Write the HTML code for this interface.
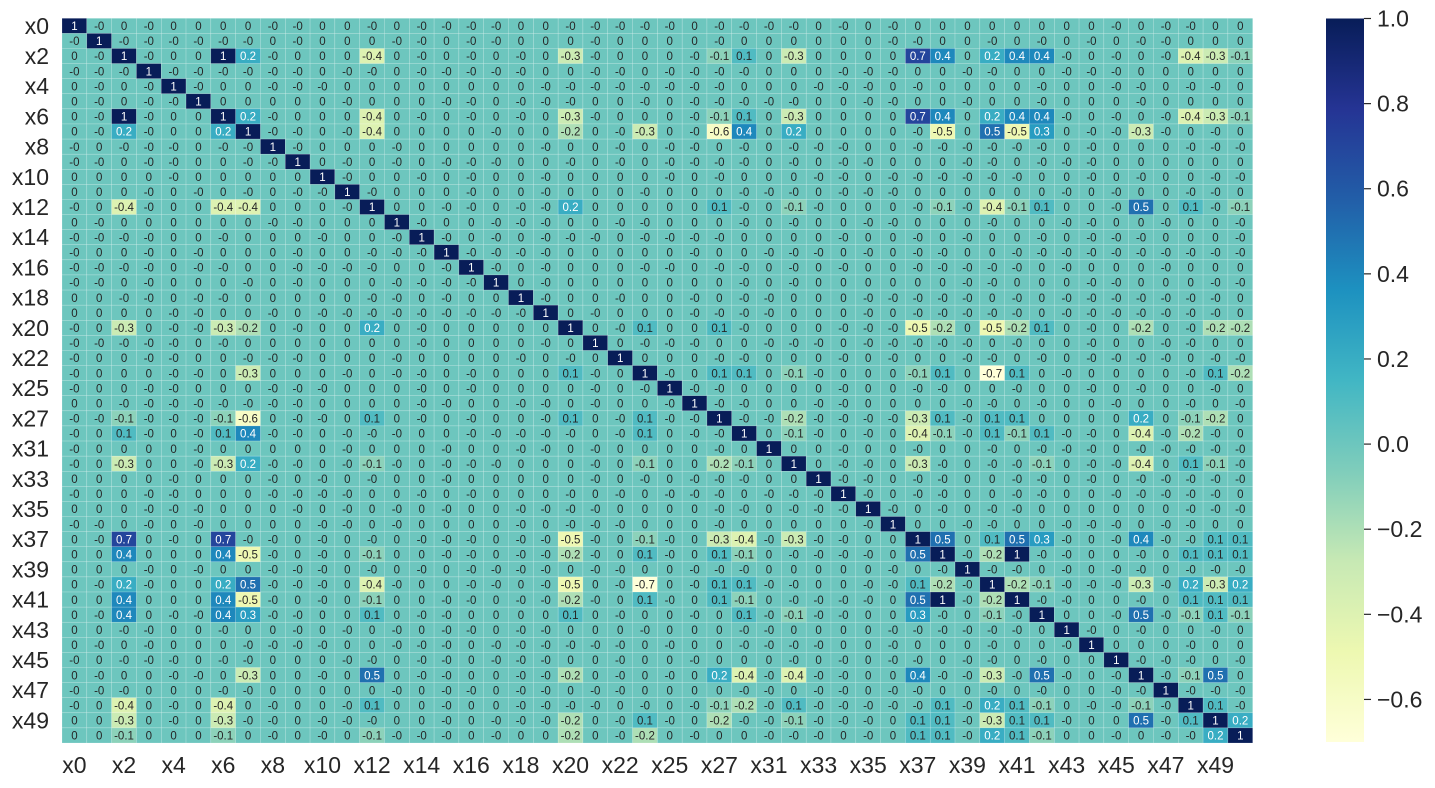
<!DOCTYPE html>
<html><head><meta charset="utf-8">
<style>
html,body{margin:0;padding:0;background:#fff;}
svg{display:block;font-family:"Liberation Sans",Arial,sans-serif;}
</style></head>
<body>
<svg id="chart" width="1435" height="788" viewBox="0 0 1435 788">
<defs>
<linearGradient id="cbgrad" x1="0" y1="0" x2="0" y2="1">
<stop offset="0" stop-color="#081d58"/><stop offset="0.125" stop-color="#253494"/><stop offset="0.25" stop-color="#225ea8"/><stop offset="0.375" stop-color="#1d91c0"/><stop offset="0.5" stop-color="#41b6c4"/><stop offset="0.625" stop-color="#7fcdbb"/><stop offset="0.75" stop-color="#c7e9b4"/><stop offset="0.875" stop-color="#edf8b1"/><stop offset="1" stop-color="#ffffd9"/>
</linearGradient>
</defs>
<g id="cells"></g>
<g id="ylab"></g>
<g id="xlab"></g>
<g id="cbar"></g>
</svg>
<script>
const varNames = ["x0","x1","x2","x3","x4","x5","x6","x7","x8","x9","x10","x11","x12","x13","x14","x15","x16","x17","x18","x19","x20","x21","x22","x23","x25","x26","x27","x28","x31","x32","x33","x34","x35","x36","x37","x38","x39","x40","x41","x42","x43","x44","x45","x46","x47","x48","x49","x50"];
const cbTicks = [1.0,0.8,0.6,0.4,0.2,0.0,-0.2,-0.4,-0.6];
const vmin = -0.7, vmax = 1.0;
// rows 0-15, cols 0-15
const blockA = [
[1,-0,0,-0,0,0,0,0,-0,-0,0,0,-0,0,-0,-0],
[-0,1,-0,-0,-0,-0,-0,-0,0,-0,0,0,0,-0,-0,0],
[0,-0,1,-0,0,0,1,0.2,-0,0,0,0,-0.4,0,-0,0],
[-0,-0,-0,1,-0,-0,-0,-0,-0,-0,0,-0,-0,0,-0,-0],
[0,-0,0,-0,1,-0,0,0,-0,-0,-0,0,0,0,0,0],
[0,-0,0,-0,-0,1,0,0,0,0,0,-0,0,0,0,-0],
[0,-0,1,-0,0,0,1,0.2,-0,0,0,0,-0.4,0,-0,0],
[0,-0,0.2,-0,0,0,0.2,1,-0,-0,0,-0,-0.4,0,0,0],
[-0,0,-0,-0,-0,0,-0,-0,1,-0,0,0,0,-0,0,0],
[-0,-0,0,-0,-0,0,0,-0,-0,1,0,-0,0,-0,0,-0],
[0,0,0,0,-0,0,0,0,0,0,1,-0,0,0,-0,0],
[0,0,0,-0,0,-0,0,-0,0,-0,-0,1,-0,0,0,0],
[-0,0,-0.4,-0,0,0,-0.4,-0.4,0,0,0,-0,1,0,0,-0],
[0,-0,0,0,0,0,0,0,-0,-0,0,0,0,1,-0,0],
[-0,-0,-0,-0,0,0,-0,0,0,0,-0,0,0,-0,1,-0],
[-0,0,0,-0,0,-0,0,0,0,-0,0,0,-0,-0,-0,1]];
// rows 0-15, cols 16-31
const blockB = [
[-0,-0,0,0,-0,-0,-0,-0,-0,0,-0,-0,-0,-0,0,-0],
[-0,-0,0,0,0,-0,0,0,0,0,-0,0,0,0,0,0],
[-0,0,-0,0,-0.3,-0,0,0,0,-0,-0.1,0.1,0,-0.3,0,0],
[-0,-0,-0,0,0,-0,-0,0,-0,-0,-0,-0,0,0,0,-0],
[0,0,0,-0,-0,-0,-0,-0,-0,-0,-0,0,0,0,-0,-0],
[-0,0,-0,-0,-0,0,0,-0,0,-0,-0,-0,-0,-0,0,0],
[-0,0,-0,0,-0.3,-0,0,0,0,-0,-0.1,0.1,0,-0.3,0,0],
[0,-0,0,0,-0.2,0,-0,-0.3,0,-0,-0.6,0.4,0,0.2,0,0],
[0,0,0,-0,0,0,-0,0,-0,-0,0,-0,0,-0,-0,-0],
[-0,-0,0,0,-0,0,-0,0,-0,-0,-0,-0,0,-0,0,-0],
[-0,0,0,-0,0,0,0,0,-0,0,-0,0,0,0,-0,-0],
[-0,0,0,-0,0,0,0,-0,0,0,0,-0,-0,-0,0,-0],
[-0,0,-0,-0,0.2,0,0,0,0,0,0.1,-0,0,-0.1,-0,0],
[0,-0,-0,-0,0,0,-0,-0,0,0,0,-0,0,-0,0,0],
[0,-0,0,-0,-0,-0,0,-0,-0,-0,-0,0,0,0,0,-0],
[-0,-0,-0,-0,0,0,0,0,0,-0,0,0,-0,-0,-0,0]];
// rows 0-15, cols 32-47
const blockC = [
[0,-0,0,0,0,0,0,0,0,0,-0,0,-0,-0,0,0],
[0,-0,-0,0,0,-0,0,-0,0,-0,0,-0,-0,0,0,0],
[0,0,0.7,0.4,0,0.2,0.4,0.4,-0,0,-0,0,-0,-0.4,-0.3,-0.1],
[-0,-0,0,0,-0,-0,0,0,-0,-0,-0,0,0,0,0,0],
[-0,0,-0,0,0,0,0,-0,0,0,-0,-0,0,-0,-0,0],
[-0,-0,0,0,-0,0,0,-0,0,0,0,-0,0,0,0,0],
[0,0,0.7,0.4,0,0.2,0.4,0.4,-0,0,-0,0,-0,-0.4,-0.3,-0.1],
[0,0,-0,-0.5,0,0.5,-0.5,0.3,0,-0,-0,-0.3,-0,0,-0,0],
[0,0,-0,-0,-0,-0,-0,-0,0,-0,0,0,0,-0,-0,-0],
[-0,0,0,0,-0,-0,0,-0,-0,-0,0,0,0,0,0,0],
[0,-0,-0,-0,-0,-0,-0,0,0,-0,0,-0,0,0,-0,-0],
[-0,-0,0,0,0,0,0,0,-0,0,-0,0,0,-0,-0,0],
[0,0,-0,-0.1,-0,-0.4,-0.1,0.1,0,0,-0,0.5,0,0.1,-0,-0.1],
[-0,-0,0,0,0,-0,0,0,-0,-0,0,0,-0,0,0,-0],
[0,0,-0,0,-0,0,0,-0,0,-0,-0,-0,0,0,0,-0],
[-0,0,-0,-0,0,0,-0,-0,-0,-0,-0,-0,-0,-0,-0,-0]];
// rows 16-31, cols 16-31
const blockD = [
[1,-0,0,-0,0,0,0,-0,-0,0,-0,-0,0,-0,0,-0],
[-0,1,0,-0,0,0,0,0,0,0,0,-0,0,-0,0,0],
[0,0,1,-0,0,0,-0,0,0,-0,0,-0,-0,0,0,0],
[-0,-0,-0,1,0,-0,0,0,0,-0,-0,-0,-0,0,0,0],
[0,0,0,0,1,0,-0,0.1,0,0,0.1,-0,0,0,0,-0],
[0,0,0,-0,0,1,0,-0,-0,-0,0,0,-0,-0,-0,0],
[0,0,-0,0,-0,0,1,0,0,0,-0,-0,0,0,0,-0],
[-0,0,0,0,0.1,-0,0,1,-0,0,0.1,0.1,0,-0.1,-0,0],
[-0,0,0,0,0,-0,0,-0,1,-0,-0,0,0,0,0,-0],
[0,0,-0,-0,0,-0,0,0,-0,1,-0,-0,0,0,-0,-0],
[-0,0,0,-0,0.1,0,-0,0.1,-0,-0,1,-0,-0,-0.2,-0,-0],
[-0,-0,-0,-0,-0,0,-0,0.1,0,-0,-0,1,0,-0.1,-0,0],
[0,0,-0,-0,0,-0,0,0,0,0,-0,0,1,0,0,-0],
[-0,-0,0,0,0,-0,0,-0.1,0,0,-0.2,-0.1,0,1,0,-0],
[0,0,0,0,0,-0,0,-0,0,-0,-0,-0,0,0,1,-0],
[-0,0,0,0,-0,0,-0,0,-0,-0,-0,0,-0,-0,-0,1]];
// rows 16-31, cols 32-47
const blockE = [
[0,0,-0,-0,-0,-0,-0,0,-0,0,0,0,-0,0,0,0],
[0,0,0,0,-0,-0,0,0,0,-0,-0,0,0,0,-0,-0],
[-0,-0,-0,-0,-0,0,-0,0,-0,-0,-0,-0,-0,-0,-0,0],
[-0,0,-0,-0,-0,-0,-0,0,-0,-0,-0,-0,-0,-0,-0,0],
[-0,-0,-0.5,-0.2,0,-0.5,-0.2,0.1,0,-0,0,-0.2,0,-0,-0.2,-0.2],
[-0,-0,-0,-0,-0,0,-0,0,0,-0,0,0,-0,-0,0,0],
[0,-0,0,0,-0,-0,0,-0,0,-0,-0,-0,-0,0,-0,-0],
[0,0,-0.1,0.1,0,-0.7,0.1,0,-0,0,0,0,0,-0,0.1,-0.2],
[0,0,-0,-0,0,0,-0,0,0,-0,0,-0,0,0,-0,0],
[0,0,0,0,-0,-0,0,-0,0,0,-0,0,0,-0,0,-0],
[-0,-0,-0.3,0.1,-0,0.1,0.1,0,0,0,0,0.2,0,-0.1,-0.2,0],
[-0,0,-0.4,-0.1,-0,0.1,-0.1,0.1,-0,-0,0,-0.4,-0,-0.2,-0,0],
[0,0,-0,0,0,-0,0,-0,-0,-0,0,-0,-0,-0,-0,-0],
[-0,0,-0.3,-0,0,-0,-0,-0.1,0,-0,-0,-0.4,0,0.1,-0.1,-0],
[-0,0,-0,-0,0,0,-0,-0,0,-0,0,-0,-0,-0,-0,-0],
[-0,0,-0,-0,0,0,-0,-0,0,0,-0,-0,-0,-0,-0,0]];
// rows 32-47, cols 32-47
const blockF = [
[1,-0,0,-0,0,-0,-0,0,0,0,0,0,0,-0,-0,-0],
[-0,1,0,0,-0,-0,0,0,-0,-0,-0,0,-0,-0,0,0],
[0,0,1,0.5,0,0.1,0.5,0.3,-0,0,-0,0.4,-0,-0,0.1,0.1],
[-0,0,0.5,1,-0,-0.2,1,-0,-0,0,0,-0,0,0.1,0.1,0.1],
[0,-0,0,-0,1,-0,-0,0,-0,0,-0,-0,0,-0,-0,-0],
[-0,-0,0.1,-0.2,-0,1,-0.2,-0.1,-0,-0,-0,-0.3,-0,0.2,-0.3,0.2],
[-0,0,0.5,1,-0,-0.2,1,-0,-0,0,0,-0,0,0.1,0.1,0.1],
[0,0,0.3,-0,0,-0.1,-0,1,0,0,-0,0.5,-0,-0.1,0.1,-0.1],
[0,-0,-0,-0,-0,-0,-0,0,1,-0,0,-0,0,0,-0,0],
[0,-0,0,0,0,-0,0,0,-0,1,0,0,0,-0,0,0],
[0,-0,-0,0,-0,-0,0,-0,0,0,1,-0,-0,-0,0,-0],
[0,0,0.4,-0,-0,-0.3,-0,0.5,-0,0,-0,1,-0,-0.1,0.5,0],
[0,-0,-0,0,0,-0,0,-0,0,0,-0,-0,1,-0,-0,-0],
[-0,-0,-0,0.1,-0,0.2,0.1,-0.1,0,-0,-0,-0.1,-0,1,0.1,-0],
[-0,0,0.1,0.1,-0,-0.3,0.1,0.1,-0,0,0,0.5,-0,0.1,1,0.2],
[-0,0,0.1,0.1,-0,0.2,0.1,-0.1,0,0,-0,0,-0,-0,0.2,1]];

const N = varNames.length;
const M = Array.from({length:N},()=>new Array(N).fill(0));
function place(block,R,C,mirror){
  for(let i=0;i<16;i++)for(let j=0;j<16;j++){
    M[R*16+i][C*16+j]=block[i][j];
    if(mirror) M[C*16+j][R*16+i]=block[i][j];
  }
}
place(blockA,0,0,false);place(blockD,1,1,false);place(blockF,2,2,false);
place(blockB,0,1,true);place(blockC,0,2,true);place(blockE,1,2,true);

const stops=["#ffffd9","#edf8b1","#c7e9b4","#7fcdbb","#41b6c4","#1d91c0","#225ea8","#253494","#081d58"].map(h=>[parseInt(h.slice(1,3),16),parseInt(h.slice(3,5),16),parseInt(h.slice(5,7),16)]);
function cmap(v){
  let f=(v-vmin)/(vmax-vmin); f=Math.max(0,Math.min(1,f));
  const p=f*(stops.length-1), k=Math.min(stops.length-2,Math.floor(p)), t=p-k;
  return stops[k].map((c,i)=>Math.round(c+(stops[k+1][i]-c)*t));
}
function lum(rgb){const l=rgb.map(c=>{c/=255;return c<=0.03928?c/12.92:Math.pow((c+0.055)/1.055,2.4);});return 0.2126*l[0]+0.7152*l[1]+0.0722*l[2];}
function fmt(v){ if(Object.is(v,-0))return "-0"; if(v===1)return "1"; if(v===0)return "0"; return String(Math.round(v*10)/10); }

const X0=62, Y0=18.3, CW=(1252.7-62)/N, RH=(743-18.3)/N;
const xPos=j=>X0+j*CW, yPos=i=>Y0+i*RH;
const NS="http://www.w3.org/2000/svg";
const cells=document.getElementById('cells');
for(let i=0;i<N;i++)for(let j=0;j<N;j++){
  const v=M[i][j], rgb=cmap(v);
  const r=document.createElementNS(NS,'rect');
  r.setAttribute('x',xPos(j));r.setAttribute('y',yPos(i));
  r.setAttribute('width',CW);r.setAttribute('height',RH);
  r.setAttribute('fill',`rgb(${rgb})`);
  r.setAttribute('stroke','rgba(255,255,255,0.35)');r.setAttribute('stroke-width','0.5');
  
  
  cells.appendChild(r);
  const t=document.createElementNS(NS,'text');
  t.setAttribute('x',xPos(j)+CW/2);t.setAttribute('y',yPos(i)+RH/2+4.2);
  t.setAttribute('text-anchor','middle');t.setAttribute('font-size','11.5');
  t.setAttribute('fill',lum(rgb)>0.408?'#262626':'#ffffff');
  t.textContent=fmt(v);
  
  
  cells.appendChild(t);
}
const ylab=document.getElementById('ylab'), xlab=document.getElementById('xlab');
for(let i=0;i<N;i+=2){
  const t=document.createElementNS(NS,'text');
  t.setAttribute('x',49);t.setAttribute('y',yPos(i)+RH/2+8);
  t.setAttribute('text-anchor','end');t.setAttribute('font-size','23');t.setAttribute('fill','#262626');
  t.textContent=varNames[i];
  
  
  ylab.appendChild(t);
  const u=document.createElementNS(NS,'text');
  u.setAttribute('x',xPos(i)+CW/2);u.setAttribute('y',773);
  u.setAttribute('text-anchor','middle');u.setAttribute('font-size','23');u.setAttribute('fill','#262626');
  u.textContent=varNames[i];
  
  
  xlab.appendChild(u);
}
const cbar=document.getElementById('cbar');
const CBX=1326, CBW=38, CBT=18.5, CBB=742;
const cbY=v=>CBT+(vmax-v)/(vmax-vmin)*(CBB-CBT);
const rb=document.createElementNS(NS,'rect');
rb.setAttribute('x',CBX);rb.setAttribute('y',CBT);rb.setAttribute('width',CBW);rb.setAttribute('height',CBB-CBT);
rb.setAttribute('fill','url(#cbgrad)');


cbar.appendChild(rb);
cbTicks.forEach(v=>{
  const y=cbY(v);
  const l=document.createElementNS(NS,'line');
  l.setAttribute('x1',CBX+CBW);l.setAttribute('x2',CBX+CBW+7);l.setAttribute('y1',y);l.setAttribute('y2',y);
  l.setAttribute('stroke','#262626');l.setAttribute('stroke-width','1.2');
  
  
  cbar.appendChild(l);
  const t=document.createElementNS(NS,'text');
  t.setAttribute('x',CBX+CBW+13);t.setAttribute('y',y+8);
  t.setAttribute('font-size','23');t.setAttribute('fill','#262626');
  t.textContent=(v<0?'\u2212':'')+Math.abs(v).toFixed(1);
  
  
  cbar.appendChild(t);
});
</script>
</body></html>
